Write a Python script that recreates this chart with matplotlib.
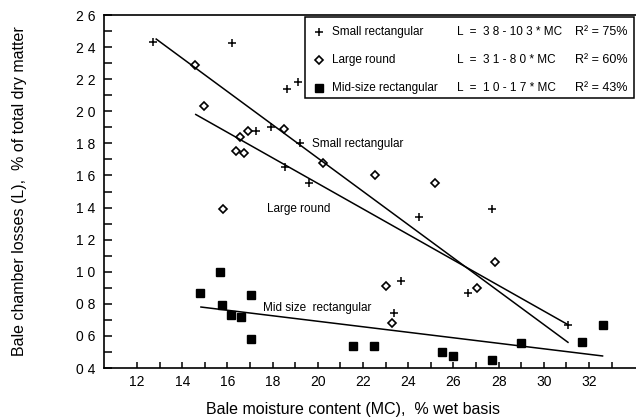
import numpy as np
import matplotlib.pyplot as plt
from matplotlib.ticker import FixedLocator
from matplotlib.patches import Rectangle

plt.rcParams['font.family'] = ['Liberation Sans', 'DejaVu Sans']

# small rectangular bales (+)
small_mc = [12.71, 16.2, 18.64, 19.12, 17.27, 17.93, 19.21, 18.55, 19.6,
            27.7, 24.48, 23.7, 23.37, 26.65, 31.07]
small_loss = [2.43, 2.425, 2.14, 2.18, 1.875, 1.9, 1.8, 1.65, 1.556,
              1.39, 1.34, 0.94, 0.74, 0.87, 0.67]

# large round bales (diamonds)
large_mc = [14.57, 14.97, 16.56, 16.38, 16.74, 16.91, 18.51, 20.23, 22.53,
            25.2, 15.8, 27.84, 23.0, 27.05, 23.28]
large_loss = [2.29, 2.03, 1.84, 1.75, 1.74, 1.875, 1.89, 1.68, 1.6,
              1.55, 1.39, 1.06, 0.91, 0.90, 0.68]

# mid-size rectangular bales (squares)
mid_mc = [14.79, 15.67, 15.77, 16.16, 16.6, 17.03, 17.03, 21.56, 22.5,
          25.5, 25.98, 27.7, 29.0, 31.69, 32.6]
mid_loss = [0.865, 1.0, 0.795, 0.73, 0.72, 0.856, 0.58, 0.54, 0.54,
            0.50, 0.475, 0.45, 0.556, 0.56, 0.67]

# regression line end points
small_fit_mc = [12.85, 31.07]
small_fit_loss = [2.45, 0.56]
large_fit_mc = [14.6, 31.07]
large_fit_loss = [1.98, 0.67]
mid_fit_mc = [14.83, 32.6]
mid_fit_loss = [0.78, 0.475]

series_names = ["Small rectangular", "Large round", "Mid-size rectangular"]
equations = ["L  =  3 8 - 10 3 * MC", "L  =  3 1 - 8 0 * MC", "L  =  1 0 - 1 7 * MC"]
r2_labels = ["R\u00b2 = 75%", "R\u00b2 = 60%", "R\u00b2 = 43%"]

x_ticks = [12, 14, 16, 18, 20, 22, 24, 26, 28, 30, 32]
x_minor = [13, 15, 17, 19, 21, 23, 25, 27, 29, 31, 33]
y_ticks = [0.4, 0.6, 0.8, 1.0, 1.2, 1.4, 1.6, 1.8, 2.0, 2.2, 2.4, 2.6]
y_labels = ["0 4", "0 6", "0 8", "1 0", "1 2", "1 4", "1 6", "1 8",
            "2 0", "2 2", "2 4", "2 6"]
y_minor = [0.5, 0.7, 0.9, 1.1, 1.3, 1.5, 1.7, 1.9, 2.1, 2.3, 2.5]


fig = plt.figure(figsize=(6.36, 4.19), dpi=100, facecolor="w")
ax = fig.add_axes([104 / 636, 51 / 419, 532 / 636, 353 / 419])

ax.plot(small_mc, small_loss, ls="none", marker="+", ms=6, mew=1.1, color="k")
ax.plot(large_mc, large_loss, ls="none", marker="D", ms=3.8, mew=1.2,
        mfc="w", mec="k")
ax.plot(mid_mc, mid_loss, ls="none", marker="s", ms=5.5, color="k")

for xs, ys in [(small_fit_mc, small_fit_loss), (large_fit_mc, large_fit_loss),
               (mid_fit_mc, mid_fit_loss)]:
    ax.plot(xs, ys, color="k", lw=1.1)

ax.text(19.73, 1.794, "Small rectangular", fontsize=8.5, va="center")
ax.text(17.77, 1.39, "Large round", fontsize=8.5, va="center")
ax.text(17.58, 0.775, "Mid size  rectangular", fontsize=8.5, va="center")

ax.set_xlim(10.54, 34.08)
ax.set_ylim(0.4, 2.6)
ax.xaxis.set_major_locator(FixedLocator(x_ticks))
ax.xaxis.set_minor_locator(FixedLocator(x_minor))
ax.set_xticklabels([str(t) for t in x_ticks])
ax.yaxis.set_major_locator(FixedLocator(y_ticks))
ax.yaxis.set_minor_locator(FixedLocator(y_minor))
ax.set_yticklabels(y_labels)
ax.tick_params(axis="both", which="both", direction="in", labelsize=10,
               width=1.1, top=False, right=False)
ax.tick_params(axis="x", which="both", length=4.5, pad=5)
ax.tick_params(axis="y", which="both", length=5.5, pad=6)

ax.spines["right"].set_visible(False)
for s in ["left", "bottom", "top"]:
    ax.spines[s].set_linewidth(1.2)

ax.set_xlabel("Bale moisture content (MC),  % wet basis", fontsize=11.5)
ax.xaxis.set_label_coords(0.468, -0.095)
ax.set_ylabel("Bale chamber losses (L),  % of total dry matter", fontsize=11.5)
ax.yaxis.set_label_coords(-0.145, 0.5)

# legend box drawn by hand to keep the equation columns
ax.add_patch(Rectangle((0.378, 0.765), 0.618, 0.229, transform=ax.transAxes,
                       fill=False, lw=1.1, ec="k", clip_on=False))
row_y = [0.952, 0.873, 0.793]
markers = [dict(marker="+", ms=6, mew=1.1, color="k"),
           dict(marker="D", ms=3.8, mew=1.2, mfc="w", mec="k"),
           dict(marker="s", ms=5.5, color="k")]
for yy, name, eq, r2, mk in zip(row_y, series_names, equations, r2_labels, markers):
    ax.plot([0.404], [yy], transform=ax.transAxes, ls="none", clip_on=False, **mk)
    ax.text(0.4286, yy, name, transform=ax.transAxes, fontsize=8.5, va="center")
    ax.text(0.6635, yy, eq, transform=ax.transAxes, fontsize=8.5, va="center")
    ax.text(0.885, yy, r2, transform=ax.transAxes, fontsize=9, va="center")

plt.savefig("out.png", dpi=100)
